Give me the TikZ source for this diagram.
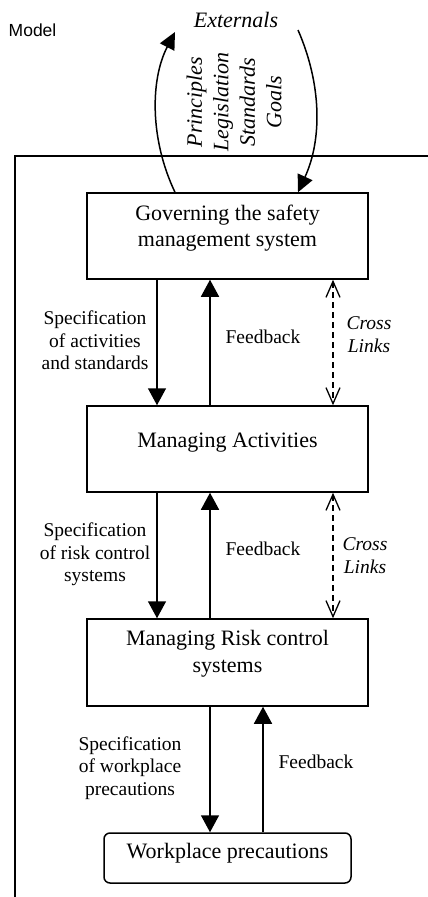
\documentclass[tikz,border=0pt]{standalone}
\usepackage{fontspec}
\setmainfont{Liberation Serif}
\newfontfamily\arialfont{Liberation Sans}
\usetikzlibrary{arrows.meta}

\begin{document}
\begin{tikzpicture}[x=1pt,y=-1pt,
  box/.style={draw, line width=1.5pt, minimum width=281pt, inner sep=0pt},
  boxtext/.style={align=center, font=\fontsize{22}{26.5}\selectfont, inner sep=0pt},
  iboxtext/.style={boxtext, font=\fontsize{22}{26.5}\selectfont\itshape},
  lbl/.style={align=center, font=\fontsize{19.5}{22.5}\selectfont, inner sep=0pt},
  ilbl/.style={lbl, font=\fontsize{19.5}{22.5}\selectfont\itshape},
  flow/.style={line width=1.5pt, -{Triangle[length=17pt,width=18pt]}},
  cross/.style={line width=1.3pt, dash pattern=on 6pt off 4pt,
    {Straight Barb[length=16pt,width=14pt]}-{Straight Barb[length=16pt,width=14pt]}},
  ext/.style={line width=1.5pt, -{Triangle[length=17pt,width=16pt]}}
]
\useasboundingbox (0,0) rectangle (428,897);

% outer frame
\draw[line width=1.3pt] (15,897) -- (15,156) -- (428,156);

% title fragment
\node[font=\arialfont\fontsize{17.5}{20}\selectfont, anchor=west, inner sep=0pt] (title) at (8.5,30.5) {Model};

% levels
\node[box, minimum height=86pt] (gov) at (227.5,236) {};
\node[box, minimum height=86pt] (act) at (227.5,449) {};
\node[box, minimum height=87pt] (risk) at (227.5,662.5) {};
\node[box, rounded corners=6pt, minimum width=247pt, minimum height=50pt] (work) at (227.5,858) {};

\node[boxtext] (govt) at (227.5,228) {Governing the safety\\management system};
\node[boxtext] (actt) at (227.5,443) {Managing Activities};
\node[boxtext] (riskt) at (227.5,653.5) {Managing Risk control\\systems};
\node[boxtext] (workt) at (227.5,853) {Workplace precautions};

% connector columns
\coordinate (xa) at (157,0);
\coordinate (xb) at (210,0);
\coordinate (xc) at (333,0);
\coordinate (xd) at (263,0);
\coordinate (xl) at (175,0);
\coordinate (xr) at (298,0);

\draw[flow] (gov.south -| xa) -- (act.north -| xa);
\draw[flow] (act.north -| xb) -- (gov.south -| xb);
\draw[cross] (gov.south -| xc) -- (act.north -| xc);

\draw[flow] (act.south -| xa) -- (risk.north -| xa);
\draw[flow] (risk.north -| xb) -- (act.south -| xb);
\draw[cross] (act.south -| xc) -- (risk.north -| xc);

\draw[flow] (risk.south -| xb) -- (work.north -| xb);
\draw[flow] (work.north -| xd) -- (risk.south -| xd);

% externals
\node[iboxtext] (exts) at (236,20) {Externals};
\node[iboxtext, rotate=90] (stds) at (234,102) {Principles\\Legislation\\Standards\\Goals};
\coordinate (upend) at (175,32);
\coordinate (downstart) at (298,30);
\draw[ext] (gov.north -| xl) .. controls (150,140) and (150,80) .. (upend);
\draw[ext] (downstart) .. controls (322,85) and (322,140) .. (gov.north -| xr);

% labels
\node[lbl] (spec1) at (95,340.5) {Specification\\of activities\\and standards};
\node[lbl] (fb1) at (263,337) {Feedback};
\node[ilbl] (cl1) at (369,334.5) {Cross\\Links};
\node[lbl] (spec2) at (95,554.5) {Specification\\of risk control\\systems};
\node[lbl] (fb2) at (263,549) {Feedback};
\node[ilbl] (cl2) at (365,555.5) {Cross\\Links};
\node[lbl] (spec3) at (130,768) {Specification\\of workplace\\precautions};
\node[lbl] (fb3) at (316,762) {Feedback};
\end{tikzpicture}
\end{document}
